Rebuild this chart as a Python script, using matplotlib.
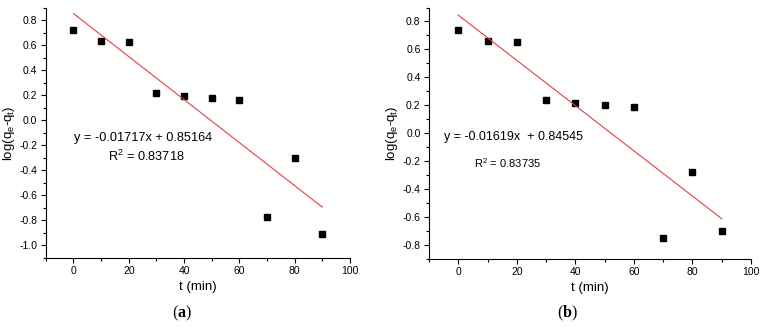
import numpy as np
import matplotlib
matplotlib.use("Agg")
import matplotlib.pyplot as plt
from matplotlib.ticker import MultipleLocator

plt.rcParams['font.family'] = ['Liberation Sans', 'DejaVu Sans']
plt.rcParams['mathtext.fontset'] = 'custom'
plt.rcParams['mathtext.rm'] = 'Liberation Serif'
plt.rcParams['mathtext.bf'] = 'Liberation Serif:bold'

t = [0, 10, 20, 30, 40, 50, 60, 70, 80, 90]  # time (min)

# panel (a)
y_a = [0.72, 0.635, 0.625, 0.215, 0.195, 0.175, 0.165, -0.775, -0.305, -0.905]
slope_a, icpt_a, r2_a = -0.01717, 0.85164, 0.83718

# panel (b)
y_b = [0.74, 0.66, 0.65, 0.24, 0.22, 0.20, 0.19, -0.75, -0.28, -0.70]
slope_b, icpt_b, r2_b = -0.01619, 0.84545, 0.83735

fig = plt.figure(figsize=(7.64, 3.27), dpi=100)
ax1 = fig.add_axes([0.060, 0.211, 0.398, 0.766])
ax2 = fig.add_axes([0.5615, 0.208, 0.4215, 0.769])


def style(ax, ylim):
    ax.set_xlim(-10, 100)
    ax.set_ylim(*ylim)
    ax.spines['top'].set_visible(False)
    ax.spines['right'].set_visible(False)
    ax.xaxis.set_major_locator(MultipleLocator(20))
    ax.xaxis.set_minor_locator(MultipleLocator(10))
    ax.yaxis.set_major_locator(MultipleLocator(0.2))
    ax.yaxis.set_minor_locator(MultipleLocator(0.1))
    ax.yaxis.set_major_formatter(plt.FuncFormatter(lambda v, p: f'{v:.1f}'))
    ax.tick_params(which='both', direction='out', labelsize=7.5, width=0.8, pad=2.5)
    ax.tick_params(which='major', length=3.6)
    ax.tick_params(which='minor', length=2)
    ax.set_xlabel('t (min)', fontsize=9.5, labelpad=3)
    ax.set_ylabel(r'log(q$_\mathregular{e}$-q$_\mathregular{t}$)', fontsize=9.5, labelpad=1.5)


xs = np.array([0, 90])

# (a)
ax1.plot(t, y_a, 's', color='black', markersize=4.3)
ax1.plot(xs, slope_a * xs + icpt_a, color='#e04040', lw=0.8)
style(ax1, (-1.1, 0.9))
ax1.text(25, -0.144, f'y = {slope_a}x + {icpt_a}', fontsize=9.2, ha='center', va='center')
ax1.text(26.5, -0.288, r'R$^\mathregular{2}$' + f' = {r2_a}', fontsize=9.2,
         ha='center', va='center')

# (b)
ax2.plot(t, y_b, 's', color='black', markersize=4.3)
ax2.plot(xs, slope_b * xs + icpt_b, color='#e04040', lw=0.8)
style(ax2, (-0.9, 0.9))
ax2.text(19, -0.03, f'y = {slope_b}x  + {icpt_b}', fontsize=9, ha='center', va='center')
ax2.text(17, -0.217, r'R$^\mathregular{2}$' + f' = {r2_b}', fontsize=8,
         ha='center', va='center')

fig.text(182 / 764, 1 - 313 / 327, r'($\mathbf{a}$)', family='Liberation Serif',
         fontsize=11.5, ha='center', va='center')
fig.text(567 / 764, 1 - 313 / 327, r'($\mathbf{b}$)', family='Liberation Serif',
         fontsize=11.5, ha='center', va='center')

fig.savefig('out.png', dpi=100)
